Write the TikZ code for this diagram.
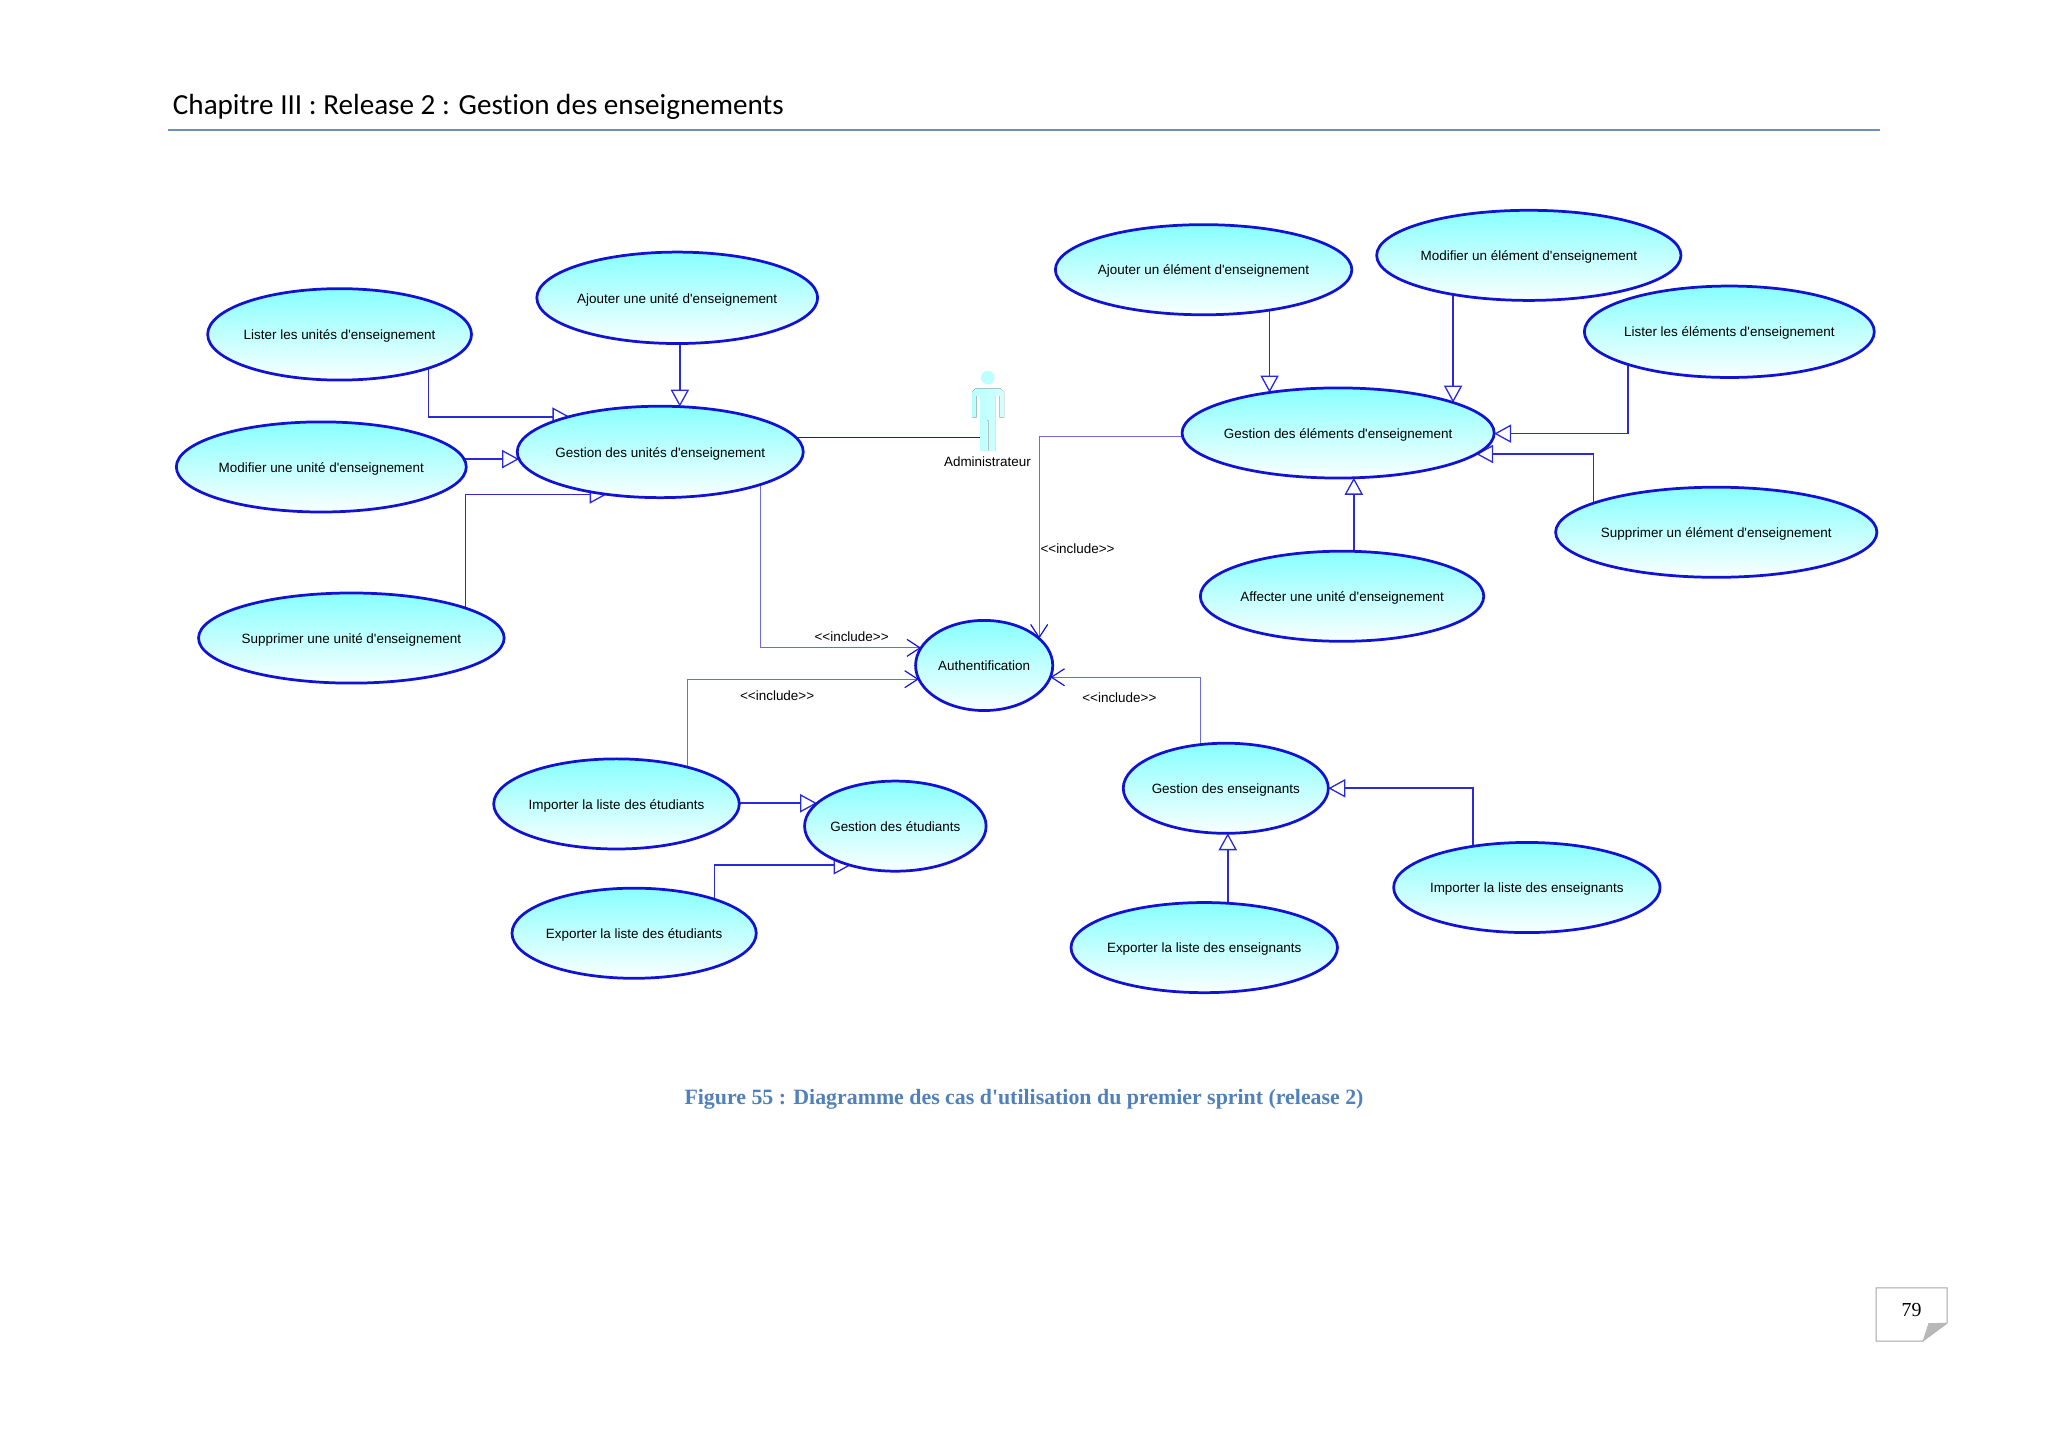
\documentclass[tikz,border=0pt]{standalone}
\usepackage{fontspec}
\usetikzlibrary{arrows.meta,shapes.geometric,calc}
\newfontfamily\arialf{Liberation Sans}
\newfontfamily\calibf[Ligatures=NoCommon]{Carlito}
\newfontfamily\timesf{Liberation Serif}
\definecolor{ucblue}{HTML}{1212D2}
\definecolor{gblue}{HTML}{2A2AD8}
\definecolor{iblue}{HTML}{6A6AE6}
\definecolor{ucfill}{HTML}{88FFFF}
\definecolor{ucfillb}{HTML}{FAFFFF}
\definecolor{headrule}{HTML}{6E8FB8}
\definecolor{capblue}{HTML}{4F81BD}
\pgfdeclarelayer{lines}
\pgfsetlayers{lines,main}
\tikzset{
  usecase/.style={ellipse,draw=ucblue,line width=1.05pt,top color=ucfill,bottom color=ucfillb,
    inner sep=0pt,outer sep=0pt,font=\arialf\fontsize{5.15}{6}\selectfont},
  lbl/.style={font=\arialf\fontsize{5.15}{6}\selectfont,inner sep=0pt,text=black},
  gen/.style={draw=gblue,line width=.65pt,-{Triangle[open,length=6.5pt,width=7pt,line width=.5pt,fill=white]}},
  incl/.style={draw=iblue,line width=.4pt,-{Straight Barb[length=5pt,width=6.5pt,line width=.45pt,color=ucblue]}},
  assoc/.style={draw=ucblue,line width=.65pt},
}
\newcommand{\usecasenode}[6]{%
  \node[usecase,minimum width={(#3-#2)*0.5pt},minimum height={(#5-#4)*0.5pt}] (#1)
    at ({(#2+#3)/2},{(#4+#5)/2}) {\makebox[0pt]{\raisebox{-2pt}[0pt][0pt]{#6}}};}
\begin{document}
\begin{tikzpicture}[x=0.5pt,y=-0.5pt]
\useasboundingbox (0,0) rectangle (1568,1108.6);
\begin{pgfonlayer}{lines}
\fill[white] (0,0) rectangle (1568,1108.6);
\end{pgfonlayer}
% header
\node[inner sep=0pt,anchor=west,font=\calibf\fontsize{11.15}{13}\selectfont,text=black] (title) at (132,81.5) {Chapitre III : Release 2 : Gestion des enseignements};
\coordinate (ruleL) at (129,99.5);
\coordinate (ruleR) at (1439,99.5);
\draw[headrule,line width=.6pt] (ruleL) -- (ruleR);
% use cases
\usecasenode{lu}{159}{361}{221}{291}{Lister les unités d'enseignement}
\usecasenode{au}{411}{626}{193}{263}{Ajouter une unité d'enseignement}
\usecasenode{gu}{396}{615}{311}{381}{Gestion des unités d'enseignement}
\usecasenode{mu}{135}{357}{323}{392}{Modifier une unité d'enseignement}
\usecasenode{su}{152}{386}{454}{523}{Supprimer une unité d'enseignement}
\usecasenode{auth}{701}{806}{475}{544}{Authentification}
\usecasenode{ie}{378}{566}{581}{650}{Importer la liste des étudiants}
\usecasenode{gs}{616}{755}{598}{667}{Gestion des étudiants}
\usecasenode{ee}{392}{579}{680}{749}{Exporter la liste des étudiants}
\usecasenode{gens}{860}{1017}{569}{638}{Gestion des enseignants}
\usecasenode{ine}{1067}{1271}{645}{714}{Importer la liste des enseignants}
\usecasenode{exe}{820}{1024}{691}{760}{Exporter la liste des enseignants}
\usecasenode{ael}{808}{1035}{172}{241}{Ajouter un élément d'enseignement}
\usecasenode{mel}{1054}{1287}{161}{230}{Modifier un élément d'enseignement}
\usecasenode{lel}{1213}{1435}{219}{289}{Lister les éléments d'enseignement}
\usecasenode{gel}{905}{1144}{297}{366}{Gestion des éléments d'enseignement}
\usecasenode{sel}{1191}{1437}{373}{442}{Supprimer un élément d'enseignement}
\usecasenode{aff}{919}{1136}{422}{491}{Affecter une unité d'enseignement}
% actor
\fill[ucfill!55!white] (756.2,289.1) circle[radius=5.2];
\fill[left color=ucfill!60!white,right color=ucfill!35!white]
  (747,297.3) -- (765.8,297.3) -- (768.8,300) -- (768.8,319.6) -- (765.4,319.6) -- (765.4,303)
  -- (761.9,303) -- (761.9,345.1) -- (756.9,345.1) -- (756.9,322) -- (755.5,322) -- (755.5,345.1)
  -- (750.4,345.1) -- (750.4,303) -- (747.8,303) -- (747.8,319.6) -- (744.5,319.6) -- (744.5,300) -- cycle;
\node[inner sep=0pt,minimum width=6pt,minimum height=30pt] (adm) at (756.4,315) {};
\node[lbl] (admlabel) at (756,353.5) {Administrateur};
% connectors
\begin{pgfonlayer}{lines}
\coordinate (t1) at ($(gu.center)+(-69.5,-27)$);
\coordinate (t2) at ($(gu.center)+(15,-34.67)$);
\coordinate (t3) at ($(gu.center)+(-108.1,5.5)$);
\coordinate (t4) at ($(gu.center)+(-41,32.5)$);
\coordinate (a1) at ($(gu.center)+(104,-11)$);
\coordinate (t5) at ($(gel.center)+(-52.5,-31)$);
\coordinate (t6) at ($(gel.center)+(88,-23.3)$);
\coordinate (t7) at ($(gel.center)+(119.5,0.5)$);
\coordinate (t8) at ($(gel.center)+(105.7,16.1)$);
\coordinate (t9) at ($(gel.center)+(12,34.3)$);
\coordinate (t10) at ($(gs.center)+(-59.9,-17.5)$);
\coordinate (t11) at ($(gs.center)+(-34.3,30)$);
\coordinate (t12) at ($(gens.center)+(78.5,0)$);
\coordinate (t13) at ($(gens.center)+(1.5,34.5)$);
\coordinate (i1) at ($(auth.center)+(-48.3,-13.5)$);
\coordinate (i2) at ($(auth.center)+(-50,10.5)$);
\coordinate (i3) at ($(auth.center)+(50.7,9)$);
\coordinate (i4) at ($(auth.center)+(42.1,-20.6)$);
\draw[gen] ($(lu.center)+(68,0)$) |- (t1);
\draw[gen] (t2 |- au.center) -- (t2);
\draw[gen] (mu.center |- t3) -- (t3);
\draw[gen] ($(su.center)+(87.5,0)$) |- (t4);
\draw[assoc] (a1) -- (a1 -| adm.west);
\draw[gen] (t5 |- ael.center) -- (t5);
\draw[gen] (t6 |- mel.center) -- (t6);
\draw[gen] ($(lel.center)+(-77.5,0)$) |- (t7);
\draw[gen] ($(sel.center)+(-94,0)$) |- (t8);
\draw[gen] (t9 |- aff.center) -- (t9);
\draw[gen] (ie.center |- t10) -- (t10);
\draw[gen] ($(ee.center)+(61.5,0)$) |- (t11);
\draw[gen] ($(ine.center)+(-41,0)$) |- (t12);
\draw[gen] (t13 |- exe.center) -- (t13);
\draw[incl] ($(gu.center)+(77,0)$) |- (i1);
\draw[incl] ($(ie.center)+(54.5,0)$) |- (i2);
\draw[incl] ($(gens.center)+(-19.5,0)$) |- (i3);
\draw[incl] ($(gel.center)+(0,3)$) -| (i4);
\end{pgfonlayer}
\node[lbl] (inc1) at (652,487.5) {<<include>>};
\node[lbl] (inc2) at (595,532.5) {<<include>>};
\node[lbl] (inc3) at (857,534.5) {<<include>>};
\node[lbl] (inc4) at (825,420) {<<include>>};
% caption
\node[inner sep=0pt,font=\timesf\bfseries\fontsize{8.37}{10}\selectfont,text=capblue] (cap) at (784,842) {Figure 55 : Diagramme des cas d'utilisation du premier sprint (release 2)};
% page number
\draw[draw=black!35,fill=white,line width=.4pt] (1436.4,986) -- (1490.8,986) -- (1490.8,1012.8) -- (1472,1026.8) -- (1436.4,1026.8) -- cycle;
\fill[black!28] (1472,1026.8) -- (1476.5,1013) -- (1490.8,1012.8) -- cycle;
\node[inner sep=0pt,font=\timesf\fontsize{7.6}{9}\selectfont,text=black] (pg) at (1463.5,1003) {79};
\end{tikzpicture}
\end{document}
